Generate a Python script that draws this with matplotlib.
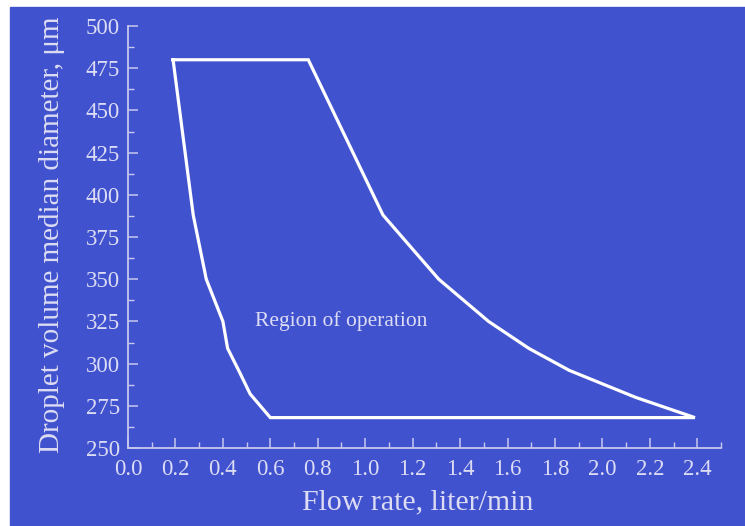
import matplotlib
matplotlib.use('Agg')
import matplotlib.pyplot as plt
from matplotlib.patches import Rectangle

# boundary of the operating region
left_x = [0.19, 0.275, 0.33, 0.40, 0.42, 0.47, 0.515, 0.60]
left_y = [480, 388, 350, 325, 309, 295, 282, 268]
right_x = [2.39, 2.14, 1.86, 1.69, 1.52, 1.31, 1.075, 0.76]
right_y = [268, 280, 296, 309, 325, 350, 388, 480]

xticks = [0.0, 0.2, 0.4, 0.6, 0.8, 1.0, 1.2, 1.4, 1.6, 1.8, 2.0, 2.2, 2.4]
yticks = [250, 275, 300, 325, 350, 375, 400, 425, 450, 475, 500]

bg = '#4152CF'
txt = '#dcdcf4'
spine = '#c8c8ee'

plt.rcParams['font.family'] = ['Liberation Serif', 'DejaVu Serif']

fig = plt.figure(figsize=(7.45, 5.26), dpi=100, facecolor='white')
fig.patches.append(Rectangle((10/745, 0), 1 - 10/745, 1 - 7/526,
                             transform=fig.transFigure, color=bg, zorder=-5))

ax = fig.add_axes([128/745, 78/526, 593/745, 422/526])
ax.set_facecolor('none')
ax.set_zorder(2)

px = left_x + right_x + [left_x[0]]
py = left_y + right_y + [left_y[0]]
ax.plot(px, py, color='white', lw=2.3, solid_joinstyle='miter', clip_on=False)

ax.text(0.90, 325, 'Region of operation', color=txt, fontsize=15.5,
        ha='center', va='center')

ax.set_xlim(0, 2.5)
ax.set_ylim(250, 500)
ax.set_xticks(xticks)
ax.set_xticklabels(['%.1f' % v for v in xticks])
ax.set_yticks(yticks)
ax.set_xticks([v / 10 for v in range(26)], minor=True)
ax.set_yticks([250 + 12.5 * i for i in range(21)], minor=True)

for s in ['top', 'right']:
    ax.spines[s].set_visible(False)
for s in ['left', 'bottom']:
    ax.spines[s].set_color(spine)
    ax.spines[s].set_linewidth(1.3)

ax.tick_params(which='both', direction='in', colors=spine, labelcolor=txt,
               labelsize=16.5)
ax.tick_params(which='major', length=7, width=1.1)
ax.tick_params(which='minor', length=4, width=1.0)
ax.tick_params(axis='x', pad=8)
ax.tick_params(axis='y', pad=6)

ax.set_xlabel('Flow rate, liter/min', color=txt, fontsize=21.5)
ax.set_ylabel('Droplet volume median diameter, \u03bcm', color=txt,
              fontsize=21)
ax.xaxis.set_label_coords(0.489, -0.097)
ax.yaxis.set_label_coords(-0.106, 0.505)

fig.savefig('out.png', dpi=100, facecolor=fig.get_facecolor())
